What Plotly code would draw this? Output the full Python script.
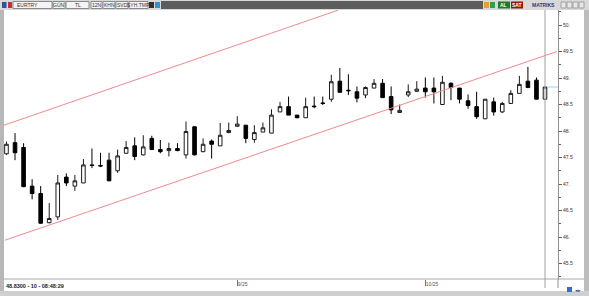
import plotly.graph_objects as go
import pandas as pd

# ---------------- data ----------------
dates = pd.bdate_range("2025-07-24", periods=64).strftime("%Y-%m-%d").tolist()

opens = [47.57, 47.78, 47.69, 46.96, 46.82, 46.27, 46.38, 47.13, 46.96, 47.02,
         47.36, 47.35, 47.45, 47.25, 47.58, 47.72, 47.55, 47.86, 47.65, 47.63,
         47.67, 47.55, 48.08, 47.61, 47.81, 47.72, 47.97, 48.09, 48.11, 47.84,
         47.98, 47.96, 48.36, 48.46, 48.30, 48.25, 48.47, 48.53, 48.60, 48.94,
         48.77, 48.74, 48.68, 48.81, 48.90, 48.65, 48.35, 48.68, 48.75, 48.81,
         48.81, 48.50, 48.90, 48.81, 48.57, 48.46, 48.23, 48.55, 48.36, 48.52,
         48.71, 48.94, 48.96, 48.60]
highs = [47.80, 47.96, 47.77, 47.09, 46.96, 46.64, 47.17, 47.20, 47.17, 47.47,
         47.67, 47.59, 47.59, 47.65, 47.81, 47.88, 47.92, 47.91, 47.83, 47.78,
         47.77, 48.18, 48.08, 47.86, 47.84, 48.15, 48.16, 48.28, 48.11, 48.11,
         48.16, 48.41, 48.55, 48.65, 48.30, 48.63, 48.65, 48.65, 49.06, 49.19,
         49.07, 48.84, 48.84, 48.98, 48.98, 48.84, 48.50, 48.88, 48.94, 49.01,
         49.01, 49.04, 48.92, 48.81, 48.69, 48.74, 48.60, 48.63, 48.55, 48.77,
         49.04, 49.21, 49.01, 48.83]
lows = [47.55, 47.45, 46.94, 46.71, 46.25, 46.26, 46.32, 46.96, 46.87, 47.02,
        47.30, 47.32, 47.06, 47.21, 47.57, 47.45, 47.54, 47.65, 47.58, 47.52,
        47.62, 47.48, 47.54, 47.60, 47.48, 47.72, 47.96, 48.08, 47.77, 47.78,
        47.98, 47.96, 48.36, 48.30, 48.24, 48.25, 48.43, 48.49, 48.55, 48.73,
        48.68, 48.54, 48.62, 48.81, 48.63, 48.32, 48.35, 48.64, 48.74, 48.63,
        48.52, 48.50, 48.58, 48.52, 48.42, 48.23, 48.23, 48.29, 48.34, 48.52,
        48.71, 48.81, 48.60, 48.60]
closes = [47.75, 47.59, 46.95, 46.82, 46.26, 46.35, 47.02, 47.02, 47.06, 47.36,
          47.35, 47.34, 47.06, 47.53, 47.69, 47.52, 47.70, 47.65, 47.61, 47.67,
          47.63, 47.99, 47.55, 47.75, 47.75, 47.92, 48.01, 48.13, 47.86, 47.97,
          48.06, 48.30, 48.46, 48.30, 48.25, 48.46, 48.46, 48.52, 48.93, 48.73,
          48.76, 48.62, 48.82, 48.90, 48.63, 48.40, 48.39, 48.74, 48.79, 48.74,
          48.74, 48.92, 48.82, 48.60, 48.48, 48.27, 48.60, 48.36, 48.52, 48.71,
          48.88, 48.82, 48.60, 48.83]

last_price = 48.83
x_tick_dates = ["2025-09-01", "2025-10-01"]
x_tick_text = ["9/25", "10/25"]
y_tick_vals = [45.5, 46.0, 46.5, 47.0, 47.5, 48.0, 48.5, 49.0, 49.5, 50.0]
y_tick_text = ["45.5", "46.", "46.5", "47.", "47.5", "48.", "48.5", "49.", "49.5", "50."]

# trend channel (index, price) end points
upper_x = [-0.29, 38.8]
upper_y = [48.11, 50.28]
lower_x = [-0.18, 64.4]
lower_y = [45.94, 49.50]

status_text = "48.8300 - 10 - 08:48:29"

# ---------------- layout helpers ----------------
FW, FH = 589, 296
L, R, T, B = 4, 558, 10, 279
W, H = R - L, B - T
X_RANGE = [-0.29, 64.52]
Y_RANGE = [45.208, 50.283]


def xp(px):
    return (px - L) / W


def yp(py):
    return (B - py) / H


idx = list(range(len(dates)))
x_tick_vals = [dates.index(d) for d in x_tick_dates]

fig = go.Figure()
fig.add_trace(go.Candlestick(
    x=idx, open=opens, high=highs, low=lows, close=closes,
    increasing=dict(line=dict(color="#1a1a1a", width=1), fillcolor="#ffffff"),
    decreasing=dict(line=dict(color="#000000", width=1), fillcolor="#000000"),
    whiskerwidth=0, hoverinfo="skip", showlegend=False,
))

shapes = []
# white chart panel
shapes.append(dict(type="rect", xref="paper", yref="paper", x0=xp(4), x1=xp(584),
                   y0=yp(291), y1=yp(10), fillcolor="#ffffff", line_width=0, layer="below"))
# left grey band
shapes.append(dict(type="rect", xref="paper", yref="paper", x0=xp(0), x1=xp(4),
                   y0=yp(291), y1=yp(10), fillcolor="#b8b8b8", line_width=0, layer="below"))
# right grey border
shapes.append(dict(type="rect", xref="paper", yref="paper", x0=xp(584), x1=xp(589),
                   y0=yp(296), y1=yp(10), fillcolor="#bdbdbd", line_width=0, layer="below"))
# bottom line of plot
shapes.append(dict(type="line", xref="paper", yref="paper", x0=xp(4), x1=xp(584),
                   y0=yp(279), y1=yp(279), line=dict(color="#a8a8a8", width=1)))
# extension of axis line into bottom strip
shapes.append(dict(type="line", xref="paper", yref="paper", x0=1, x1=1,
                   y0=yp(288), y1=yp(279), line=dict(color="#909090", width=1)))
# vertical cursor line at last candle
shapes.append(dict(type="line", xref="x", yref="paper", x0=idx[-1], x1=idx[-1],
                   y0=yp(288), y1=1, line=dict(color="#a0a0a0", width=1)))
# last price marker
shapes.append(dict(type="line", xref="x", yref="y", x0=idx[-1] + 0.3, x1=X_RANGE[1],
                   y0=last_price, y1=last_price, line=dict(color="#7fe3e8", width=1)))
# channel lines
shapes.append(dict(type="line", xref="x", yref="y", x0=upper_x[0], x1=upper_x[1],
                   y0=upper_y[0], y1=upper_y[1], line=dict(color="#f08a8a", width=1)))
shapes.append(dict(type="line", xref="x", yref="y", x0=lower_x[0], x1=lower_x[1],
                   y0=lower_y[0], y1=lower_y[1], line=dict(color="#f08a8a", width=1)))

# ---------- toolbar ----------
shapes.append(dict(type="rect", xref="paper", yref="paper", x0=xp(0), x1=xp(589),
                   y0=yp(10), y1=yp(0), fillcolor="#d8d8d8", line_width=0, layer="below"))
shapes.append(dict(type="rect", xref="paper", yref="paper", x0=xp(161), x1=xp(483),
                   y0=yp(9), y1=yp(1), fillcolor="#5c5c5c", line_width=0, layer="below"))
annotations = []
FONT = "Liberation Sans, Arial, sans-serif"
boxes = [(13, 52, "EURTRY", "left"), (53, 65, "GÜN", "center"), (66, 89, "TL", "center"),
         (91, 102, "12N", "center"), (103, 115, "KHN", "center"), (116, 128, "SVD", "center"),
         (129, 148, "SYH.TMP", "center")]
for x0, x1, txt, al in boxes:
    shapes.append(dict(type="rect", xref="paper", yref="paper", x0=xp(x0), x1=xp(x1),
                       y0=yp(8.5), y1=yp(1.5), fillcolor="#f4f4f4",
                       line=dict(color="#8a8a8a", width=1), layer="below"))
    annotations.append(dict(xref="paper", yref="paper",
                            x=xp(x0 + 2) if al == "left" else xp((x0 + x1) / 2),
                            y=yp(5), text=txt, showarrow=False,
                            xanchor="left" if al == "left" else "center", yanchor="middle",
                            font=dict(size=5, color="#333333", family=FONT)))
# little icons
icons = [(2, 6.5, "#2f4fa8"), (8, 12, "#c83030"), (149, 154, "#303030"), (155, 160, "#2f8fd8"),
         (484, 489, "#e8a020"), (490, 495, "#30a050")]
for x0, x1, c in icons:
    shapes.append(dict(type="rect", xref="paper", yref="paper", x0=xp(x0), x1=xp(x1),
                       y0=yp(8), y1=yp(2), fillcolor=c, line_width=0, layer="below"))
# AL / SAT buttons
for x0, x1, c, txt in [(498, 510, "#1f7a2a", "AL"), (511, 523, "#8c1a1a", "SAT")]:
    shapes.append(dict(type="rect", xref="paper", yref="paper", x0=xp(x0), x1=xp(x1),
                       y0=yp(8.5), y1=yp(1.5), fillcolor=c, line_width=0, layer="below"))
    annotations.append(dict(xref="paper", yref="paper", x=xp((x0 + x1) / 2), y=yp(5),
                            text="<b>" + txt + "</b>", showarrow=False, xanchor="center",
                            yanchor="middle", font=dict(size=5, color="#ffffff", family=FONT)))
annotations.append(dict(xref="paper", yref="paper", x=xp(543), y=yp(5), text="<b>MATRIKS</b>",
                        showarrow=False, xanchor="center", yanchor="middle",
                        font=dict(size=5, color="#2a3a7a", family=FONT)))
for x0 in [561, 567, 573, 579]:
    shapes.append(dict(type="rect", xref="paper", yref="paper", x0=xp(x0), x1=xp(x0 + 5),
                       y0=yp(8), y1=yp(2), fillcolor="#e8e8e8",
                       line=dict(color="#a0a0a0", width=1), layer="below"))

# ---------- bottom strip ----------
shapes.append(dict(type="rect", xref="paper", yref="paper", x0=xp(0), x1=xp(589),
                   y0=yp(296), y1=yp(291), fillcolor="#cfcfcf", line_width=0, layer="below"))
annotations.append(dict(xref="paper", yref="paper", x=xp(4), y=yp(286), text="<b>" + status_text + "</b>",
                        showarrow=False, xanchor="left", yanchor="middle",
                        font=dict(size=5.5, color="#222222", family=FONT)))
shapes.append(dict(type="rect", xref="paper", yref="paper", x0=xp(567), x1=xp(572),
                   y0=yp(292), y1=yp(287), fillcolor="#2f6fc8", line_width=0))
annotations.append(dict(xref="paper", yref="paper", x=xp(573), y=yp(289.5), text="◂▸",
                        showarrow=False, xanchor="left", yanchor="middle",
                        font=dict(size=5, color="#2f4fa8", family=FONT)))

fig.update_layout(
    width=FW, height=FH,
    margin=dict(l=L, r=FW - R, t=T, b=FH - B, pad=0),
    paper_bgcolor="#cccccc", plot_bgcolor="#ffffff",
    shapes=shapes, annotations=annotations,
    boxgap=0.4,
    xaxis=dict(range=X_RANGE, showgrid=False, zeroline=False, rangeslider=dict(visible=False),
               tickmode="array", tickvals=x_tick_vals, ticktext=x_tick_text,
               ticks="outside", ticklen=6, tickcolor="#707070", tickwidth=1,
               ticklabelposition="outside right",
               tickfont=dict(size=5, color="#555555", family=FONT), showline=False),
    yaxis=dict(range=Y_RANGE, side="right", showgrid=False, zeroline=False,
               tickmode="array", tickvals=y_tick_vals, ticktext=y_tick_text,
               ticks="outside", ticklen=3, tickcolor="#606060",
               minor=dict(dtick=0.25, ticks="outside", ticklen=2, tickcolor="#606060"),
               showline=True, linecolor="#909090", linewidth=1,
               tickfont=dict(size=5, color="#333333", family=FONT)),
)

fig.write_html("out.html")
